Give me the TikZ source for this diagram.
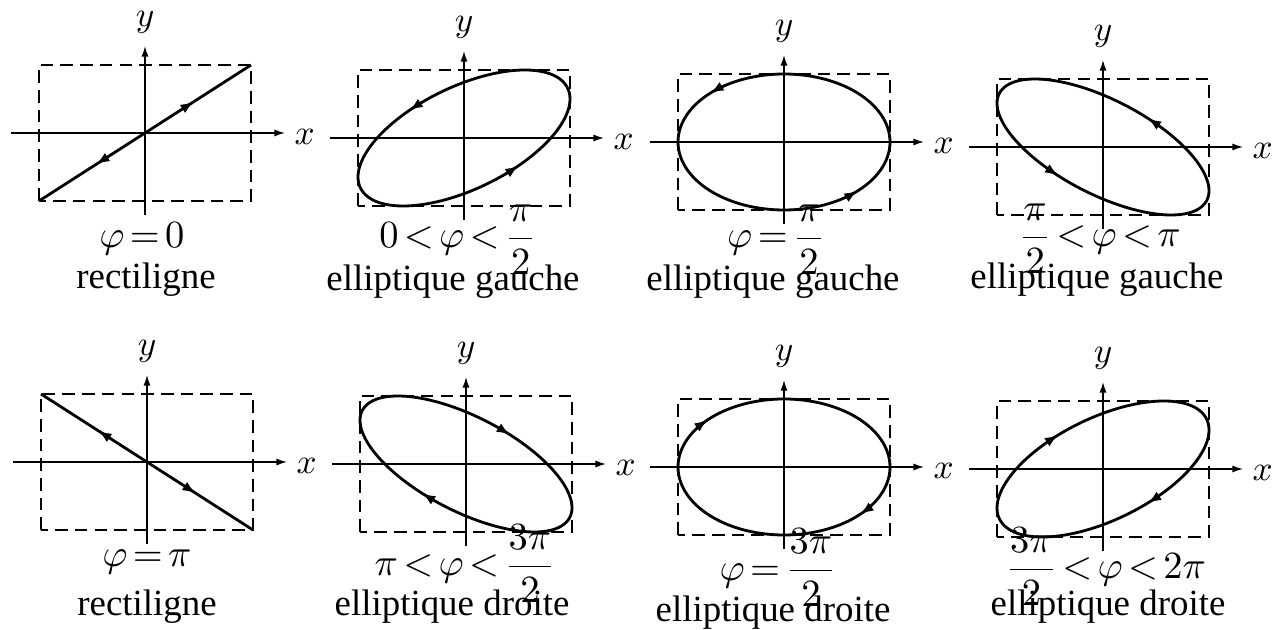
\documentclass[tikz,border=0pt]{standalone}
\usepackage{amsmath}
\usepackage{fontspec}
\setmainfont{Liberation Serif}
\usetikzlibrary{arrows.meta}
\thickmuskip=2.5mu
\tikzset{
  cadre/.style={dash pattern=on 3.6pt off 2pt, line width=0.45pt},
  axe/.style={line width=0.4pt, -{Latex[length=3pt,width=2pt]}},
  courbe/.style={line width=0.8pt},
  fleche/.style={line width=0.8pt, -{Latex[length=3.8pt,width=2.8pt]}},
  etiq/.style={anchor=base, inner sep=0pt, font=\fontsize{10.5}{12.6}\selectfont},
}
\begin{document}
\begin{tikzpicture}
    \useasboundingbox[fill=white] (0,0) rectangle (12.82,-6.30);
    \foreach \ox/\oy [count=\i] in {1.45/-1.33, 4.64/-1.38, 7.84/-1.42, 11.03/-1.47, 1.47/-4.62, 4.66/-4.64, 7.84/-4.67, 11.03/-4.69} {
      \begin{scope}[shift={(\ox,\oy)}]
        \draw[cadre] (-1.06,-0.68) rectangle (1.06,0.68);
        \draw[axe] (-1.34,0) -- (1.40,0) node[right=0.9mm, inner sep=0pt, yshift=-0.4mm] (x\i) {$x$};
        \draw[axe] (0,-0.82) -- (0,0.87) node[above=1.2mm, inner sep=0pt] (y\i) {$y$};
      \end{scope}
    }
    \foreach \ox/\oy/\ph/\ta in {4.64/-1.38/55/121, 7.84/-1.42/90/134, 11.03/-1.47/130/65, 4.66/-4.64/230/294.5, 7.84/-4.67/270/224, 11.03/-4.69/305/245} {
      \begin{scope}[shift={(\ox,\oy)}]
        \draw[courbe, domain=0:357, samples=120] plot[smooth cycle] ({1.06*cos(\x)}, {0.68*cos(\x-\ph)});
        \foreach \t in {\ta, \ta+180}
          \draw[fleche] ({1.06*cos(\t-3)}, {0.68*cos(\t-3-\ph)}) -- ({1.06*cos(\t)}, {0.68*cos(\t-\ph)});
      \end{scope}
    }
    \begin{scope}[shift={(1.45,-1.33)}]
      \draw[courbe] (-1.06,-0.68) -- (1.06,0.68);
      \draw[fleche] (0.424,0.272) -- (0.488,0.313);
      \draw[fleche] (-0.424,-0.272) -- (-0.488,-0.313);
    \end{scope}
    \begin{scope}[shift={(1.47,-4.62)}]
      \draw[courbe] (-1.06,0.68) -- (1.06,-0.68);
      \draw[fleche] (-0.424,0.272) -- (-0.488,0.313);
      \draw[fleche] (0.424,-0.272) -- (0.488,-0.313);
    \end{scope}
    \node[etiq] (phi1) at (1.42,-2.48) {$\varphi=0$};
    \node[etiq] (nom1) at (1.46,-2.89) {rectiligne};
    \node[etiq] (phi2) at (4.58,-2.48) {$0<\varphi<\dfrac{\pi}{2}$};
    \node[etiq] (nom2) at (4.53,-2.91) {elliptique gauche};
    \node[etiq] (phi3) at (7.76,-2.48) {$\varphi=\dfrac{\pi}{2}$};
    \node[etiq] (nom3) at (7.73,-2.91) {elliptique gauche};
    \node[etiq] (phi4) at (11.00,-2.47) {$\dfrac{\pi}{2}<\varphi<\pi$};
    \node[etiq] (nom4) at (10.97,-2.89) {elliptique gauche};
    \node[etiq] (phi5) at (1.47,-5.67) {$\varphi=\pi$};
    \node[etiq] (nom5) at (1.47,-6.15) {rectiligne};
    \node[etiq] (phi6) at (4.65,-5.76) {$\pi<\varphi<\dfrac{3\pi}{2}$};
    \node[etiq] (nom6) at (4.52,-6.16) {elliptique droite};
    \node[etiq] (phi7) at (7.78,-5.80) {$\varphi=\dfrac{3\pi}{2}$};
    \node[etiq] (nom7) at (7.73,-6.22) {elliptique droite};
    \node[etiq] (phi8) at (11.06,-5.79) {$\dfrac{3\pi}{2}<\varphi<2\pi$};
    \node[etiq] (nom8) at (11.08,-6.16) {elliptique droite};
\end{tikzpicture}
\end{document}
